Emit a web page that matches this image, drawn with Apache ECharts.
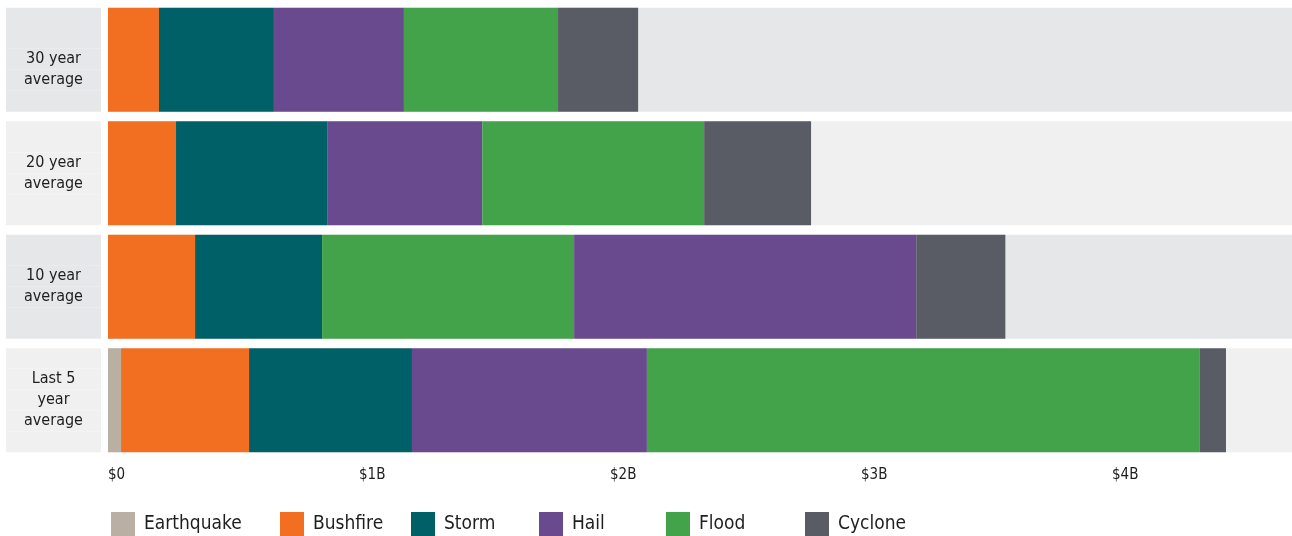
<!DOCTYPE html>
<html>
<head>
<meta charset="utf-8">
<script src="https://cdn.jsdelivr.net/npm/echarts@6/dist/echarts.min.js"></script>
<style>
  html, body { margin: 0; padding: 0; background: #fff; }
  #main { width: 1292px; height: 536px; }
</style>
</head>
<body>
<div id="main"></div>
<script>
// 分类（从上到下）
var categories = ['30 year\naverage', '20 year\naverage', '10 year\naverage', 'Last 5\nyear\naverage'];

// 各灾害平均损失（十亿澳元）
var earthquake = [0, 0, 0, 0.052];
var bushfire = [0.203, 0.271, 0.347, 0.510];
var storm = [0.458, 0.602, 0.506, 0.649];
var hail = [0.518, 0.618, 1.363, 0.936];
var flood = [0.614, 0.884, 1.004, 2.203];
var cyclone = [0.319, 0.426, 0.355, 0.104];

// 10年那一行洪水排在冰雹前面
var floodBeforeHail = [false, false, true, false];

// 横轴刻度
var tickLabels = ['$0', '$1B', '$2B', '$3B', '$4B'];
var axisMax = 4.717;

// 图例
var legendNames = ['Earthquake', 'Bushfire', 'Storm', 'Hail', 'Flood', 'Cyclone'];
var legendLeft = [111, 280, 411, 539, 666, 805];

// 第一行文字在原图里偏下一点
var labelShift = [10, 0, 0, 0];

var fontName = "'Liberation Sans Narrow', 'DejaVu Sans Condensed', sans-serif";
var textColor = '#1e1e1e';
var colors = {
    Earthquake: '#b9afa3',
    Bushfire: '#f26f21',
    Storm: '#006068',
    Hail: '#694a8e',
    Flood: '#43a34a',
    Cyclone: '#595c65'
};
var rowBg = ['#e6e7e9', '#f0f0f0'];
var boxH = 104, lineH = 21;

function barSeries(name, data) {
    return {
        name: name,
        type: 'bar',
        stack: 'total',
        barWidth: 104,
        barGap: '-100%',
        itemStyle: { color: colors[name] },
        data: data
    };
}

// y轴标签的富文本样式（带底色的方框）
function buildRich() {
    var rich = {};
    for (var r = 0; r < categories.length; r++) {
        var k = r % 2;
        var n = categories[r].split('\n').length;
        var pad = (boxH - n * lineH) / 2;
        rich['t' + r] = { width: 95, height: lineH, lineHeight: lineH, align: 'center', backgroundColor: rowBg[k], fontSize: 16, fontFamily: fontName, color: textColor };
        rich['a' + r] = { width: 95, height: pad + labelShift[r], lineHeight: pad + labelShift[r], backgroundColor: rowBg[k], fontSize: 2 };
        rich['b' + r] = { width: 95, height: pad - labelShift[r], lineHeight: pad - labelShift[r], backgroundColor: rowBg[k], fontSize: 2 };
    }
    return rich;
}

function yLabel(value, index) {
    var body = value.split('\n').map(function (l) { return '{t' + index + '|' + l + '}'; }).join('\n');
    return '{a' + index + '| }\n' + body + '\n{b' + index + '| }';
}

function fillData() {
    var myChart = echarts.init(document.getElementById('main'));

    var floodEarly = flood.map(function (v, i) { return floodBeforeHail[i] ? v : 0; });
    var floodLate = flood.map(function (v, i) { return floodBeforeHail[i] ? 0 : v; });

    var bgData = categories.map(function (c, i) {
        return { value: axisMax, itemStyle: { color: rowBg[i % 2] } };
    });

    // 每个图例单独放，位置对齐原图
    var legends = legendNames.map(function (n, i) {
        return {
            data: [n],
            left: legendLeft[i],
            top: 512,
            padding: 0,
            icon: 'rect',
            itemWidth: 24,
            itemHeight: 24,
            selectedMode: false,
            textStyle: { fontSize: 19, fontFamily: fontName, color: textColor, padding: [0, 0, 0, 4] }
        };
    });

    var option = {
        animation: false,
        textStyle: { fontFamily: fontName },
        grid: { left: 108, right: 0, top: 3, height: 454 },
        legend: legends,
        xAxis: {
            type: 'value',
            min: 0,
            max: axisMax,
            interval: 1,
            axisLine: { show: false },
            axisTick: { show: false },
            splitLine: { show: false },
            axisLabel: {
                showMaxLabel: false,
                align: 'left',
                margin: 11,
                fontSize: 15,
                color: textColor,
                fontFamily: fontName,
                formatter: function (v) {
                    return (v % 1 === 0 && tickLabels[v] !== undefined) ? tickLabels[v] : '';
                }
            }
        },
        yAxis: {
            type: 'category',
            inverse: true,
            data: categories,
            axisLine: { show: false },
            axisTick: { show: false },
            axisLabel: {
                interval: 0,
                margin: 7,
                align: 'right',
                formatter: yLabel,
                rich: buildRich()
            }
        },
        series: [
            {
                name: 'bg',
                type: 'bar',
                barWidth: 104,
                barGap: '-100%',
                silent: true,
                data: bgData
            },
            barSeries('Earthquake', earthquake),
            barSeries('Bushfire', bushfire),
            barSeries('Storm', storm),
            barSeries('Flood', floodEarly),
            barSeries('Hail', hail),
            barSeries('Flood', floodLate),
            barSeries('Cyclone', cyclone)
        ]
    };

    myChart.setOption(option);
}

window.addEventListener("load", () => { fillData(); }, false);
</script>
</body>
</html>
